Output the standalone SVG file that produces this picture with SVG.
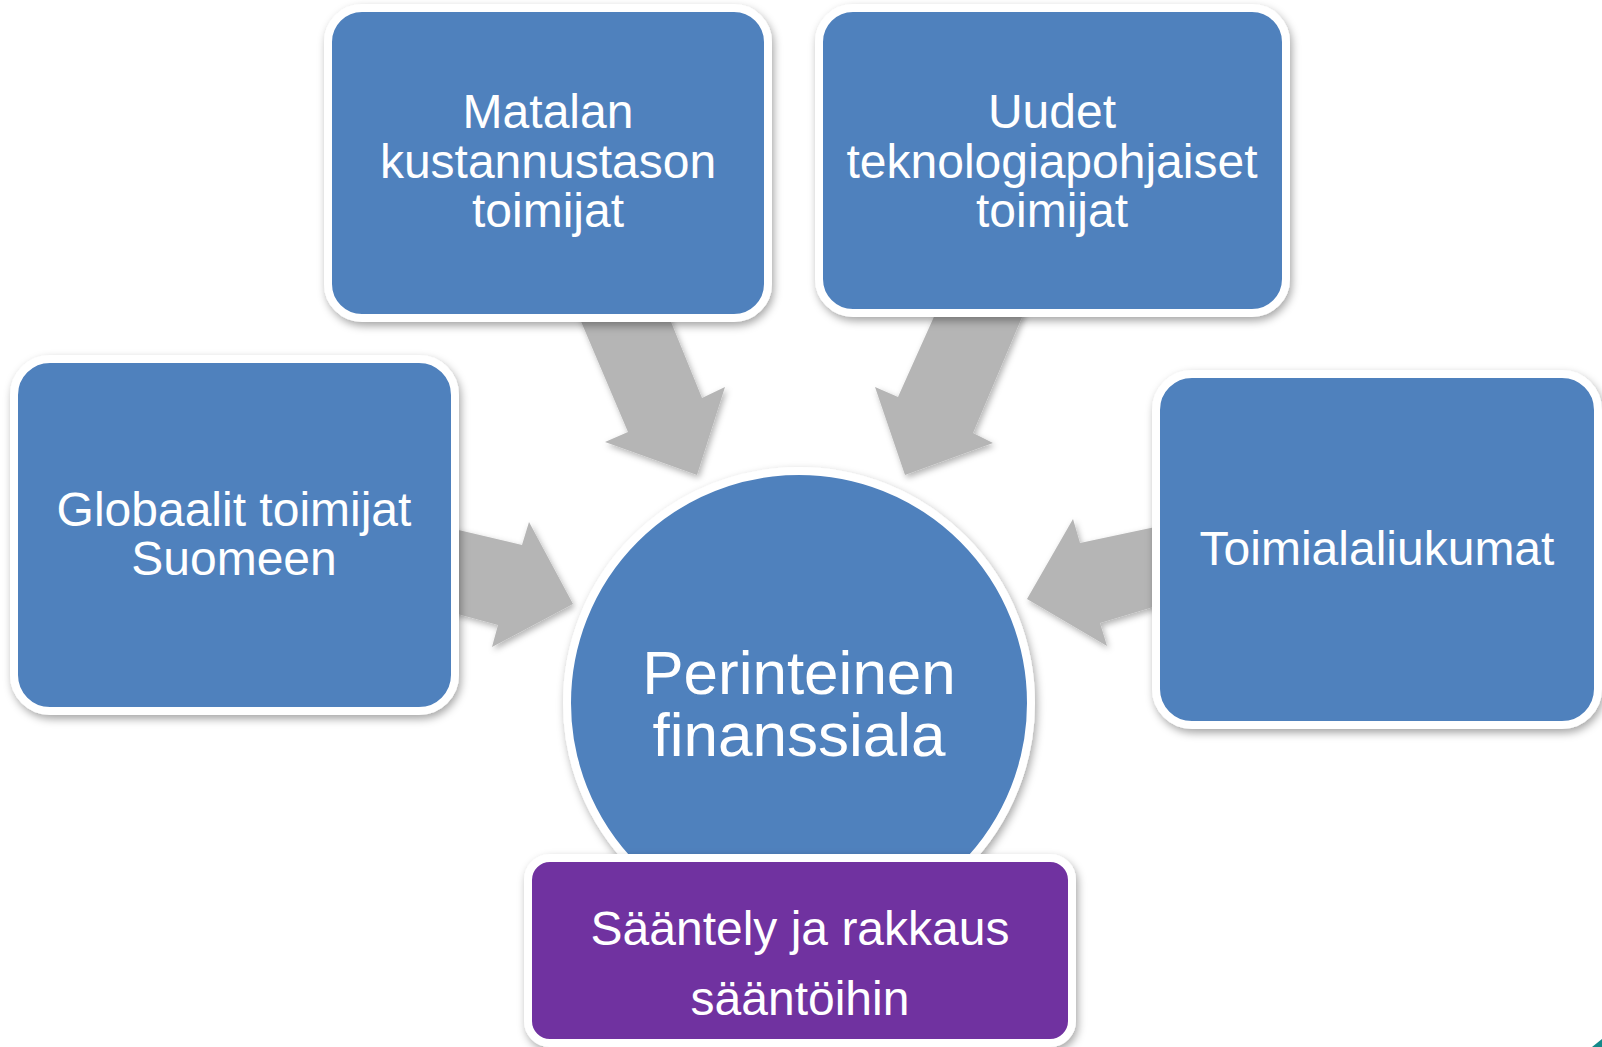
<svg xmlns="http://www.w3.org/2000/svg" width="1602" height="1047" viewBox="0 0 1602 1047">
<defs>
<filter id="sh" x="-10%" y="-10%" width="125%" height="125%">
<feDropShadow dx="2" dy="4" stdDeviation="4" flood-color="#000" flood-opacity="0.35"/>
</filter>
<filter id="ash" x="-10%" y="-10%" width="130%" height="130%">
<feDropShadow dx="2" dy="3" stdDeviation="3" flood-color="#000" flood-opacity="0.3"/>
</filter>
<style>
.box{fill:#4F81BD;stroke:#FFFFFF;stroke-width:8;filter:url(#sh)}
.purple{fill:#7030A0;stroke:#FFFFFF;stroke-width:8;filter:url(#sh)}
.arrow{fill:#B5B5B5;filter:url(#ash)}
.t{font-family:"Liberation Sans",Arial,sans-serif;fill:#FFFFFF;text-anchor:middle;font-size:48px}
.big{font-size:62px}
</style>
</defs>
<rect width="1602" height="1047" fill="#FFFFFF"/>
<g id="connectors">
<polygon class="arrow" points="450,528 522,545 529,522 573,604 492,647 498,625 450,612"/>
<polygon class="arrow" points="577,312 628,432 605,442 697,475 725,387 702,398 667,312"/>
<polygon class="arrow" points="937,310 898,397 875,387 905,475 993,443 973,433 1025,310"/>
<polygon class="arrow" points="1160,526 1080,543 1073,519 1027,599 1107,646 1100,623 1160,605"/>
</g>
<g id="node-matalan">
<rect class="box" x="328" y="8" width="440" height="310" rx="34"/>
<text class="t" x="548" y="128">Matalan</text>
<text class="t" x="548" y="178">kustannustason</text>
<text class="t" x="548" y="227">toimijat</text>
</g>
<g id="node-uudet">
<rect class="box" x="819" y="8" width="467" height="305" rx="34"/>
<text class="t" x="1052" y="128">Uudet</text>
<text class="t" x="1052" y="178">teknologiapohjaiset</text>
<text class="t" x="1052" y="227">toimijat</text>
</g>
<g id="node-globaalit">
<rect class="box" x="14" y="359" width="441" height="352" rx="36"/>
<text class="t" x="234" y="526">Globaalit toimijat</text>
<text class="t" x="234" y="575">Suomeen</text>
</g>
<g id="node-toimiala">
<rect class="box" x="1156" y="374" width="442" height="351" rx="36"/>
<text class="t" x="1377" y="565">Toimialaliukumat</text>
</g>
<g id="node-perinteinen">
<circle class="box" cx="799" cy="703" r="232"/>
<text class="t big" x="799" y="694">Perinteinen</text>
<text class="t big" x="799" y="756">finanssiala</text>
</g>
<g id="node-saantely">
<rect class="purple" x="528" y="858" width="544" height="185" rx="22"/>
<text class="t" x="800" y="945">Sääntely ja rakkaus</text>
<text class="t" x="800" y="1015">sääntöihin</text>
</g>
<polygon points="1592,1047 1602,1047 1602,1039" fill="#138A8A"/>
</svg>
